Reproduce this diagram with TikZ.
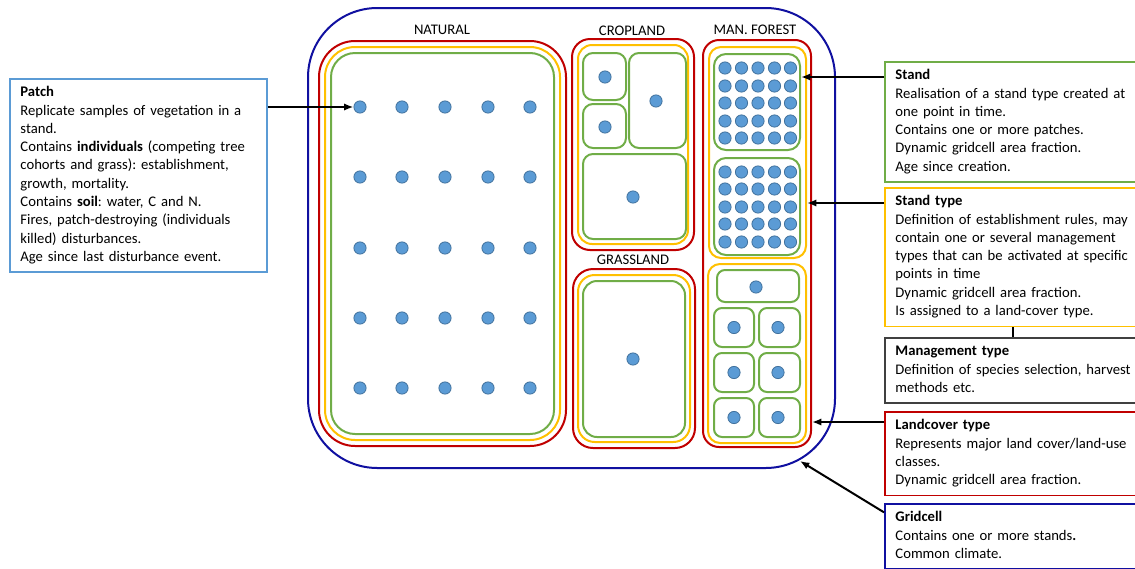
\documentclass[tikz,border=0pt]{standalone}
\usepackage{fontspec}
\setmainfont{Carlito}
\usepackage{tikz}
\usetikzlibrary{arrows.meta}
\definecolor{gridblue}{RGB}{16,16,160}
\definecolor{landred}{RGB}{192,0,0}
\definecolor{typeyellow}{RGB}{255,192,0}
\definecolor{standgreen}{RGB}{112,173,71}
\definecolor{dotblue}{RGB}{91,155,213}
\definecolor{dotedge}{RGB}{65,113,156}
\definecolor{mgmtgray}{RGB}{64,64,64}
\frenchspacing

\begin{document}
\begin{tikzpicture}[x=0.75pt,y=-0.75pt,
    font=\fontsize{11}{13.7}\selectfont,
    gridline/.style={draw=gridblue,line width=1.5pt,rounded corners=52pt},
    landline/.style={draw=landred,line width=1.5pt},
    typeline/.style={draw=typeyellow,line width=1.5pt},
    standline/.style={draw=standgreen,line width=1.5pt},
    dot/.style={circle,draw=dotedge,fill=dotblue,line width=0.6pt,inner sep=0pt,minimum size=9.2pt},
    infobox/.style={rectangle,anchor=north west,line width=1.2pt,inner xsep=8pt,inner ysep=4pt,
        align=left,fill=white,execute at begin node=\strut,execute at end node=\strut},
    pointer/.style={-{Latex[length=7pt,width=5.5pt]},line width=1.5pt}]
    \useasboundingbox (0,0) rectangle (1135,568);
    \clip (0,0) rectangle (1135,568);
				% gridcell
				\draw[gridline] (308,8) rectangle (835,468);
				% natural
				\draw[landline, rounded corners=27pt] (319,41) rectangle (566,446);
				\draw[typeline, rounded corners=22.5pt] (325,47) rectangle (560,440);
				\draw[standline, rounded corners=18pt] (331,53) rectangle (554,434);
				\node (natural) at (442,30) {NATURAL};
				\foreach \x [count=\i] in {360,402,445,488,530}
					\foreach \y [count=\j] in {107,177,248,318,388}
						\node[dot] (n\j\i) at (\x,\y) {};
				% cropland
				\node (cropland) at (632,31) {CROPLAND};
				\draw[landline, rounded corners=13.5pt] (572,39) rectangle (694,250);
				\draw[typeline, rounded corners=10.5pt] (578,45) rectangle (688,244);
				\draw[standline, rounded corners=7.5pt] (583,53) rectangle (626,100);
				\draw[standline, rounded corners=7.5pt] (629,53) rectangle (686,148);
				\draw[standline, rounded corners=7.5pt] (583,104) rectangle (626,148);
				\draw[standline, rounded corners=7.5pt] (583,154) rectangle (686,239);
				\node[dot] (c1) at (605,77) {};
				\node[dot] (c2) at (656,101) {};
				\node[dot] (c3) at (605,127) {};
				\node[dot] (c4) at (633,197) {};
				% grassland
				\node (grassland) at (633,260) {GRASSLAND};
				\draw[landline, rounded corners=15pt] (573,269) rectangle (695,448);
				\draw[typeline, rounded corners=12.5pt] (578,275) rectangle (690,442);
				\draw[standline, rounded corners=10.5pt] (583,281) rectangle (685,437);
				\node[dot] (g1) at (633,359) {};
				% managed forest
				\node (manforest) at (755,30) {MAN. FOREST};
				\draw[landline, rounded corners=12pt] (703,40) rectangle (811,447);
				\draw[typeline, rounded corners=9pt] (709,47) rectangle (806,258);
				\draw[standline, rounded corners=9pt] (714,54) rectangle (800,150);
				\draw[standline, rounded corners=9pt] (714,158) rectangle (800,255);
				\foreach \x [count=\i] in {725,741.5,758,774.5,790.5}{
					\foreach \y [count=\j] in {68,86,103,121,138}
						\node[dot] (f\j\i) at (\x,\y) {};
					\foreach \y [count=\j] in {172,189,207,224,242}
						\node[dot] (h\j\i) at (\x,\y) {};
				}
				\draw[typeline, rounded corners=9pt] (708,264) rectangle (806,443);
				\draw[standline, rounded corners=6pt] (717,270) rectangle (799,302);
				\node[dot] (m0) at (756,287) {};
				\foreach \y [count=\j] in {308,353,398}{
					\draw[standline, rounded corners=6pt] (714,\y) rectangle (754,\y+39);
					\draw[standline, rounded corners=6pt] (759,\y) rectangle (800,\y+39);
					\node[dot] (ml\j) at (734,\y+19.5) {};
					\node[dot] (mr\j) at (778,\y+19.5) {};
				}
				% boxes
				\node[infobox, draw=dotblue, text width=177pt] (Patch) at (9,78)
					{\textbf{Patch}\\Replicate samples of vegetation in a\\stand.\\
					Contains \textbf{individuals} (competing tree\\cohorts and grass): establishment,\\
					growth, mortality.\\Contains \textbf{soil}: water, C and N.\\
					Fires, patch-destroying (individuals\\killed) disturbances.\\Age since last disturbance event.};
				\node[infobox, draw=standgreen, text width=200pt] (Stand) at (884,61)
					{\textbf{Stand}\\Realisation of a stand type created at\\one point in time.\\
					Contains one or more patches.\\Dynamic gridcell area fraction.\\Age since creation.};
				\node[infobox, draw=typeyellow, text width=200pt] (StandType) at (884,187)
					{\textbf{Stand type}\\Definition of establishment rules, may\\contain one or several management\\
					types that can be activated at specific\\points in time\\
					Dynamic gridcell area fraction.\\Is assigned to a land-cover type.};
				\node[infobox, draw=mgmtgray, text width=200pt] (Mgmt) at (884,337)
					{\textbf{Management type}\\Definition of species selection, harvest\\methods etc.};
				\node[infobox, draw=landred, text width=200pt] (Land) at (884,411)
					{\textbf{Landcover type}\\Represents major land cover/land-use\\classes.\\Dynamic gridcell area fraction.};
				\node[infobox, draw=gridblue, text width=200pt] (Grid) at (884,503)
					{\textbf{Gridcell}\\Contains one or more stands\textbf{.}\\Common climate.};
				% arrows
				\coordinate (standtip) at (801,77);
				\coordinate (typetip) at (807,203);
				\coordinate (landtip) at (812,422);
				\coordinate (gridtip) at (800,461);
				\coordinate (mlink) at (1013,330);
				\draw[pointer] (Patch.east |- n11) -- (n11.west);
				\draw[pointer] ([yshift=-12pt]Stand.north west) -- (standtip);
				\draw[pointer] ([yshift=-12pt]StandType.north west) -- (typetip);
				\draw[pointer] ([yshift=-8.25pt]Land.north west) -- (landtip);
				\draw[pointer] ([yshift=-7pt]Grid.north west) -- (gridtip);
				\draw[line width=1.5pt] (StandType.south -| mlink) -- (Mgmt.north -| mlink);
			\end{tikzpicture}
\end{document}
